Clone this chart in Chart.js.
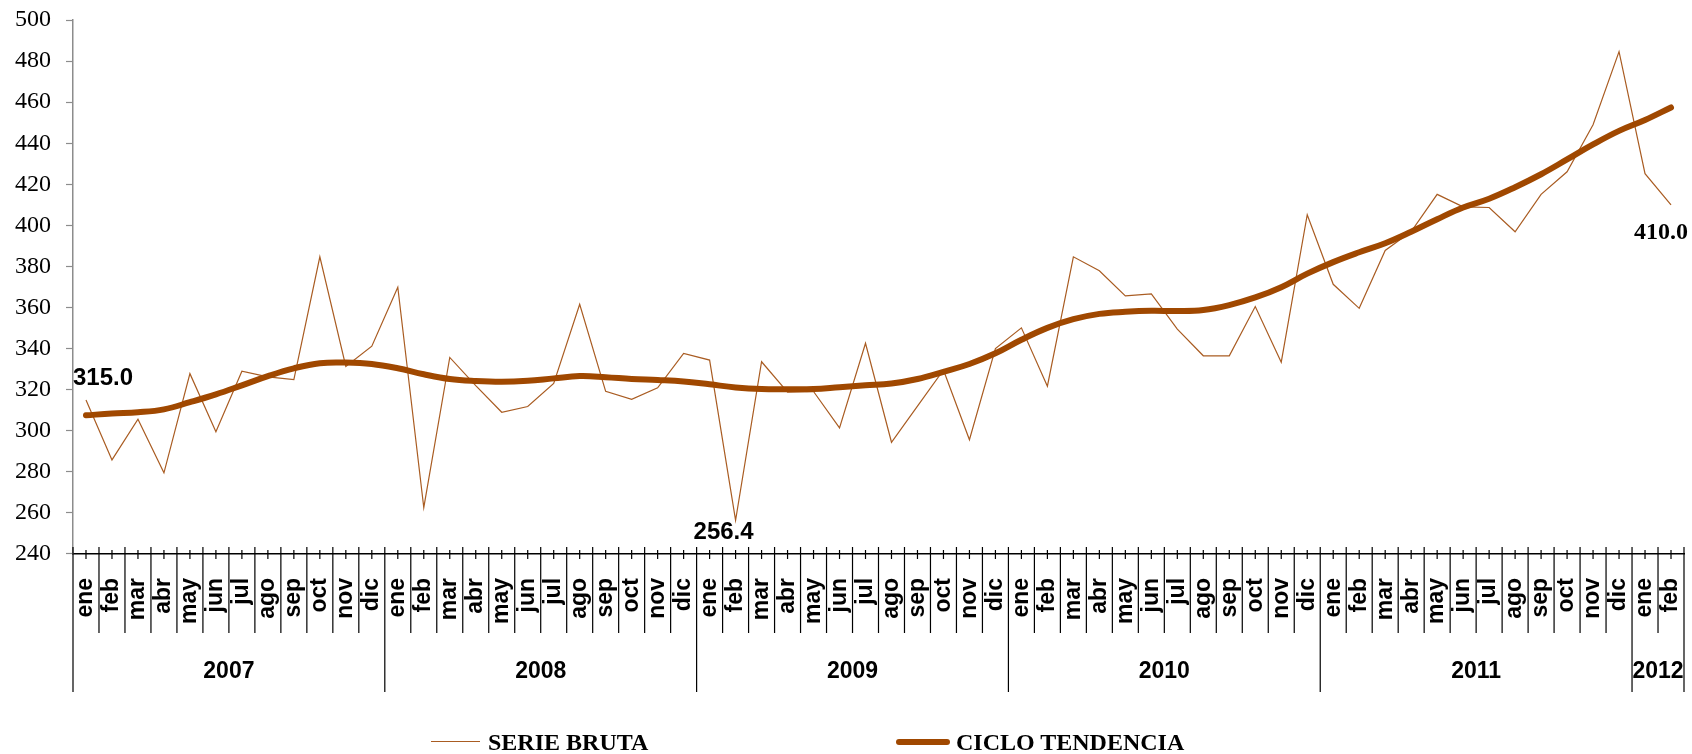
<!DOCTYPE html>
<html lang="es">
<head>
<meta charset="UTF-8">
<title>Serie bruta y ciclo tendencia</title>
<script src="https://cdn.jsdelivr.net/npm/chart.js"></script>
<style>
  html, body { margin: 0; padding: 0; background: #fff; }
  .wrap { position: relative; width: 1692px; height: 754px; }
  .legend { position: absolute; left: 0; top: 728px; width: 1692px; height: 28px;
    font: bold 24px "Liberation Serif", "Times New Roman", serif; line-height: 28px; color: #000; }
  .legend span { position: absolute; top: 0; white-space: nowrap; }
  .legend i { position: absolute; display: block; }
</style>
</head>
<body>
<div class="wrap">
  <canvas id="grafico" width="1692" height="754"></canvas>
  <div class="legend">
    <i style="left:431px; top:13px; width:49px; height:1px; background:#A95C22"></i>
    <span style="left:488px">SERIE BRUTA</span>
    <i style="left:896px; top:11px; width:54px; height:6px; border-radius:3px; background:#A04800"></i>
    <span style="left:956px">CICLO TENDENCIA</span>
  </div>
</div>

<script>
  // meses y años del eje horizontal
  const meses = ["ene", "feb", "mar", "abr", "may", "jun", "jul", "ago", "sep", "oct", "nov", "dic"];
  const anios = ["2007", "2008", "2009", "2010", "2011", "2012"];
  const mesesPorAnio = [12, 12, 12, 12, 12, 2];

  // serie bruta
  const serieBruta = [
    315.0, 285.8, 305.6, 279.5, 327.8, 299.5, 329.0, 326.2, 324.9, 384.7, 331.3, 341.2,
    369.9, 262.6, 335.7, 322.0, 309.0, 311.8, 323.0, 361.6, 319.2, 315.3, 320.9, 337.7,
    334.4, 256.4, 333.6, 318.8, 319.1, 301.4, 342.6, 294.4, 312.0, 329.6, 295.6, 340.0,
    350.1, 321.7, 384.7, 377.9, 365.7, 366.6, 349.5, 336.5, 336.5, 360.5, 333.4, 405.2,
    371.3, 359.6, 387.8, 397.0, 415.1, 409.0, 408.7, 396.9, 415.1, 426.1, 449.0, 484.6,
    425.2, 410.0
  ];

  // ciclo tendencia
  const cicloTendencia = [
    307.5, 308.4, 309.0, 310.4, 313.9, 317.7, 322.1, 326.6, 330.4, 332.9, 333.2, 332.5,
    330.4, 327.5, 325.2, 324.2, 323.8, 324.3, 325.5, 326.6, 326.1, 325.2, 324.7, 324.0,
    322.6, 321.1, 320.3, 320.2, 320.3, 321.2, 322.1, 323.0, 325.2, 328.7, 332.5, 337.7,
    344.3, 350.1, 354.3, 356.9, 357.9, 358.4, 358.3, 358.8, 361.2, 364.9, 369.9, 376.5,
    382.1, 386.9, 391.3, 396.9, 403.0, 408.7, 413.0, 418.6, 424.9, 432.1, 439.4, 446.0,
    451.3, 457.4
  ];

  // eje vertical
  const yMin = 240, yMax = 500, yPaso = 20;

  // puntos con etiqueta en la serie bruta
  const puntosEtiqueta = [0, 25, 61];

  const etiquetas = [];
  mesesPorAnio.forEach((n) => {
    for (let m = 0; m < n; m++) etiquetas.push(meses[m]);
  });

  // marcas, separadores de meses y años bajo el eje
  const ejeAnios = {
    id: "ejeAnios",
    afterDraw(chart) {
      const x = chart.scales.x;
      const ctx = chart.ctx;
      const base = x.top;
      const mitad = (x.getPixelForValue(1) - x.getPixelForValue(0)) / 2;
      ctx.save();
      ctx.strokeStyle = "#000";
      ctx.lineWidth = 1.2;
      ctx.beginPath();
      for (let i = 0; i < etiquetas.length; i++) {
        const cx = x.getPixelForValue(i);
        ctx.moveTo(cx, base - 4);
        ctx.lineTo(cx, base + 5);
        ctx.moveTo(cx - mitad, base - 7);
        ctx.lineTo(cx - mitad, base + 79);
      }
      const ultimo = x.getPixelForValue(etiquetas.length - 1) + mitad;
      ctx.moveTo(ultimo, base - 7);
      ctx.lineTo(ultimo, base + 79);
      ctx.stroke();

      ctx.font = "bold 23px 'Liberation Sans', Arial, sans-serif";
      ctx.fillStyle = "#000";
      ctx.textAlign = "center";
      ctx.textBaseline = "middle";
      let inicio = 0;
      ctx.beginPath();
      anios.forEach((a, k) => {
        const n = mesesPorAnio[k];
        const x0 = x.getPixelForValue(inicio) - mitad;
        const x1 = x.getPixelForValue(inicio + n - 1) + mitad;
        ctx.moveTo(x0, base + 79);
        ctx.lineTo(x0, base + 138);
        if (k === anios.length - 1) {
          ctx.moveTo(x1, base + 79);
          ctx.lineTo(x1, base + 138);
        }
        ctx.fillText(a, (x0 + x1) / 2, base + 118);
        inicio += n;
      });
      ctx.stroke();
      ctx.restore();
    }
  };

  // valores rotulados sobre la serie bruta
  const rotulos = {
    id: "rotulos",
    afterDatasetsDraw(chart) {
      const meta = chart.getDatasetMeta(0);
      const estilos = [
        { dx: 17, dy: -22, font: "bold 24px 'Liberation Sans', Arial, sans-serif" },
        { dx: -12, dy: 12, font: "bold 24px 'Liberation Sans', Arial, sans-serif" },
        { dx: -10, dy: 28, font: "bold 24px 'Liberation Serif', 'Times New Roman', serif" }
      ];
      const ctx = chart.ctx;
      ctx.save();
      ctx.fillStyle = "#000";
      ctx.textAlign = "center";
      ctx.textBaseline = "middle";
      puntosEtiqueta.forEach((i, k) => {
        const p = meta.data[i];
        ctx.font = estilos[k].font;
        ctx.fillText(serieBruta[i].toFixed(1), p.x + estilos[k].dx, p.y + estilos[k].dy);
      });
      ctx.restore();
    }
  };

  new Chart(document.getElementById("grafico"), {
    type: "line",
    data: {
      labels: etiquetas,
      datasets: [
        {
          label: "SERIE BRUTA",
          data: serieBruta,
          borderColor: "#A95C22",
          borderWidth: 1.2,
          pointRadius: 0,
          tension: 0,
          order: 2
        },
        {
          label: "CICLO TENDENCIA",
          data: cicloTendencia,
          borderColor: "#A04800",
          borderWidth: 6,
          borderCapStyle: "round",
          pointRadius: 0,
          tension: 0.4,
          order: 1
        }
      ]
    },
    options: {
      responsive: false,
      animation: false,
      layout: { padding: { top: 20, right: 8, left: 0, bottom: 130 } },
      plugins: {
        legend: { display: false },
        tooltip: { enabled: false }
      },
      scales: {
        x: {
          offset: true,
          border: { color: "#000", width: 1.5 },
          grid: {
            offset: true,
            drawOnChartArea: false,
            drawTicks: true,
            tickLength: 24,
            tickColor: "rgba(0,0,0,0)"
          },
          ticks: {
            autoSkip: false,
            maxRotation: 90,
            minRotation: 90,
            padding: 0,
            color: "#000",
            font: { family: "'Liberation Sans', Arial, sans-serif", size: 23, weight: "bold", lineHeight: 0.9 }
          }
        },
        y: {
          min: yMin,
          max: yMax,
          border: { color: "#8c8c8c", width: 1.5 },
          grid: {
            drawOnChartArea: false,
            tickLength: 7,
            tickColor: "#8c8c8c",
            tickWidth: 1.2
          },
          ticks: {
            stepSize: yPaso,
            padding: 15,
            color: "#000",
            font: { family: "'Liberation Serif', 'Times New Roman', serif", size: 24, lineHeight: 0.4 }
          }
        }
      }
    },
    plugins: [ejeAnios, rotulos]
  });
</script>
</body>
</html>
